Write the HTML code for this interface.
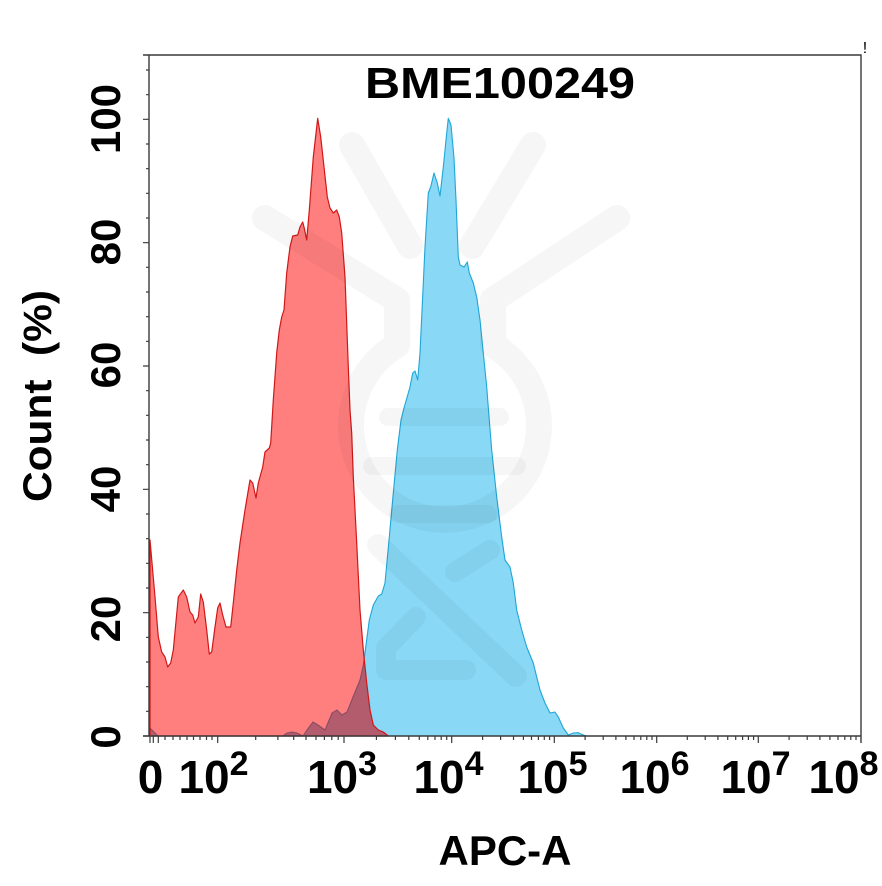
<!DOCTYPE html>
<html>
<head>
<meta charset="utf-8">
<style>
  html,body{margin:0;padding:0;background:#fff;}
  svg{display:block;}
  text{font-family:"Liberation Sans",Arial,sans-serif;font-weight:bold;fill:#000;}
</style>
</head>
<body>
<svg width="882" height="886" viewBox="0 0 882 886" xmlns="http://www.w3.org/2000/svg">
  <rect x="0" y="0" width="882" height="886" fill="#fff"/>
  <defs>
    <path id="redp" d="M150,736 L150,540 L155,597 L158.3,637 L161.7,652 L165,657 L167.7,667 L170.7,663 L173.3,650 L178.3,597 L183.3,590 L186.7,597 L190,612 L192.7,615 L195,623 L198.3,617 L200.7,594 L203.3,602 L206.7,630 L209.3,654 L211.7,652 L215,627 L217.7,608 L220,603 L222.7,615 L226,627 L230.7,627 L233.3,603 L236.7,570 L240,543 L245,510 L250,480 L252.7,483 L256,498 L258.3,483 L262.7,467 L265,452 L269.3,448 L270.7,443 L273.3,400 L276.7,353 L279.3,330 L281.7,317 L284,310 L286.7,273 L290,247 L292.7,236 L297.7,235 L300,227 L302.7,222 L304,227 L306.7,240 L309.3,210 L313.3,157 L317.7,118.3 L320.7,137 L324,167 L327.3,197 L330,208 L333.3,213 L336.7,210 L339.3,217 L341.7,233 L345,277 L348.3,367 L350,410 L351.7,433 L353.3,477 L356.7,543 L360,610 L363.3,650 L366.7,683 L370,710 L373.3,725 L378.3,730 L383.3,732 L388.3,736 Z"/>
    <path id="bluep" d="M150,736 L150,728 L158,736 L283,736 L287,733 L292,732 L297,733 L303,736 L307,730 L313,722 L318,725 L325,730 L332,713 L337,710 L342,715 L347,712 L353,697 L360,680 L363.3,665 L366,645 L369.3,620 L373.3,605 L378.3,596 L381.7,594 L385,583 L389.3,537 L393.3,493 L397.3,450 L401,420 L404,408 L410,387 L412.7,373 L415,371 L417.7,380 L420,353 L421.7,317 L425,247 L428.3,193 L430.7,187 L434,173 L437.3,183 L440,196 L443.3,167 L446,140 L448.3,118.3 L451,125 L454,158 L456,200 L458.3,257 L460,265 L464,267 L467.3,262 L469.3,273 L473.3,283 L476.7,297 L480,320 L483.3,353 L486.7,387 L488.5,410 L491.7,450 L496.7,497 L501.7,537 L505,560 L510,567 L513.3,583 L516.7,610 L521.7,630 L526.7,647 L533.3,663 L536.7,677 L540,690 L545,703 L550,713 L555,712 L558.3,717 L563.3,728 L568.3,735 L573.3,733 L578.3,732.7 L583.3,735 L586.7,736 Z"/>
    <clipPath id="redclip">
      <use href="#redp"/>
    </clipPath>
  </defs>

  <!-- Blue histogram -->
  <use href="#bluep" fill="#88d8f6" stroke="#1fa6d6" stroke-width="1.1" stroke-linejoin="round"/>

  <!-- Red histogram -->
  <use href="#redp" fill="rgba(255,0,0,0.5)" stroke="none"/>

  <!-- darken overlap -->
  <g clip-path="url(#redclip)">
    <use href="#bluep" fill="rgba(70,0,25,0.14)" stroke="none"/>
  </g>

  <use href="#redp" fill="none" stroke="#d01818" stroke-width="1.2" stroke-linejoin="round"/>

  <!-- Watermark -->
  <g fill="none" stroke="rgba(0,0,0,0.035)" stroke-linecap="round" stroke-linejoin="round">
    <path d="M352,145 L410,246" stroke-width="26"/>
    <path d="M533,145 L472,246" stroke-width="26"/>
    <path d="M265,218 L397,300 L397,345 A94 94 0 1 0 493 345 L493,300 L617,218" stroke-width="26"/>
    <path d="M388,417 L500,417" stroke-width="18"/>
    <path d="M372,466 L517,466" stroke-width="18"/>
    <path d="M398,514 L488,514" stroke-width="18"/>
    <path d="M378,545 L516,676" stroke-width="22"/>
    <path d="M416,617 L386,648 L386,670 L466,670" stroke-width="20"/>
    <path d="M455,572 L490,550" stroke-width="20"/>
  </g>

  <!-- Box / axes -->
  <g stroke="#3a3a3a" stroke-width="1.4" fill="none">
    <path d="M143,55 L861,55 L861,743"/>
    <path d="M149,55 L149,736"/>
    <path d="M143,736 L861,736"/>
  </g>

  <!-- Y ticks -->
  <g stroke="#3a3a3a" stroke-width="1.2">
    <path d="M143,736H149 M143,612.7H149 M143,489.3H149 M143,366H149 M143,242.7H149 M143,119.3H149"/>
    <path d="M146,711.3H149 M146,686.7H149 M146,662H149 M146,637.3H149 M146,588H149 M146,563.3H149 M146,538.7H149 M146,514H149 M146,464.7H149 M146,440H149 M146,415.3H149 M146,390.7H149 M146,341.3H149 M146,316.7H149 M146,292H149 M146,267.3H149 M146,218H149 M146,193.3H149 M146,168.7H149 M146,144H149 M146,94.7H149 M146,70H149"/>
  </g>

  <!-- X ticks -->
  <g stroke="#3a3a3a" stroke-width="1.2">
    <path d="M150,736V743 M153.3,736V743 M158.3,736V743 M217.7,736V743 M344,736V743 M451.7,736V743 M554.3,736V743 M656.7,736V743 M758.3,736V743"/>
    <path d="M165,736V740 M173,736V740 M180,736V740 M187,736V740 M193.5,736V740 M200,736V740 M206.5,736V740 M212,736V740
             M255.7,736V740 M277.9,736V740 M293.7,736V740 M306,736V740 M316,736V740 M324.4,736V740 M331.8,736V740 M338.2,736V740
             M376.4,736V740 M395.4,736V740 M408.8,736V740 M419.3,736V740 M427.8,736V740 M435,736V740 M441.2,736V740 M446.7,736V740
             M482.6,736V740 M500.6,736V740 M513.5,736V740 M523.4,736V740 M531.5,736V740 M538.4,736V740 M544.3,736V740 M549.6,736V740
             M585.1,736V740 M603.2,736V740 M615.9,736V740 M625.9,736V740 M634,736V740 M640.8,736V740 M646.8,736V740 M652,736V740
             M687.3,736V740 M705.2,736V740 M717.9,736V740 M727.7,736V740 M735.7,736V740 M742.6,736V740 M748.4,736V740 M753.6,736V740
             M789.1,736V740 M807.2,736V740 M819.9,736V740 M829.9,736V740 M838,736V740 M844.8,736V740 M850.8,736V740 M856,736V740"/>
  </g>

  <!-- Title -->
  <text x="500" y="98" font-size="44" text-anchor="middle" textLength="270" lengthAdjust="spacingAndGlyphs">BME100249</text>

  <!-- small mark top right -->
  <text x="865" y="53" font-size="16" text-anchor="middle" fill="#401010" style="font-weight:normal">!</text>

  <!-- Y tick labels -->
  <g font-size="42">
    <text transform="translate(120,737) rotate(-90)" text-anchor="middle">0</text>
    <text transform="translate(120,619) rotate(-90)" text-anchor="middle">20</text>
    <text transform="translate(120,489) rotate(-90)" text-anchor="middle">40</text>
    <text transform="translate(120,365) rotate(-90)" text-anchor="middle">60</text>
    <text transform="translate(120,242) rotate(-90)" text-anchor="middle">80</text>
    <text transform="translate(120,119) rotate(-90)" text-anchor="middle">100</text>
  </g>

  <!-- Y axis title -->
  <text transform="translate(51,396) rotate(-90)" font-size="40" text-anchor="middle" textLength="212" lengthAdjust="spacingAndGlyphs" xml:space="preserve">Count  (%)</text>

  <!-- X tick labels -->
  <g font-size="46">
    <text x="150.5" y="793" text-anchor="middle">0</text>
    <text x="213.5" y="793" text-anchor="middle">10<tspan font-size="34" dy="-18">2</tspan></text>
    <text x="342" y="793" text-anchor="middle">10<tspan font-size="34" dy="-18">3</tspan></text>
    <text x="448.5" y="793" text-anchor="middle">10<tspan font-size="34" dy="-18">4</tspan></text>
    <text x="552.5" y="793" text-anchor="middle">10<tspan font-size="34" dy="-18">5</tspan></text>
    <text x="654.5" y="793" text-anchor="middle">10<tspan font-size="34" dy="-18">6</tspan></text>
    <text x="755.5" y="793" text-anchor="middle">10<tspan font-size="34" dy="-18">7</tspan></text>
    <text x="843.5" y="793" text-anchor="middle">10<tspan font-size="34" dy="-18">8</tspan></text>
  </g>

  <!-- X axis title -->
  <text x="505" y="865" font-size="42" text-anchor="middle" textLength="133" lengthAdjust="spacingAndGlyphs">APC-A</text>
</svg>
</body>
</html>
